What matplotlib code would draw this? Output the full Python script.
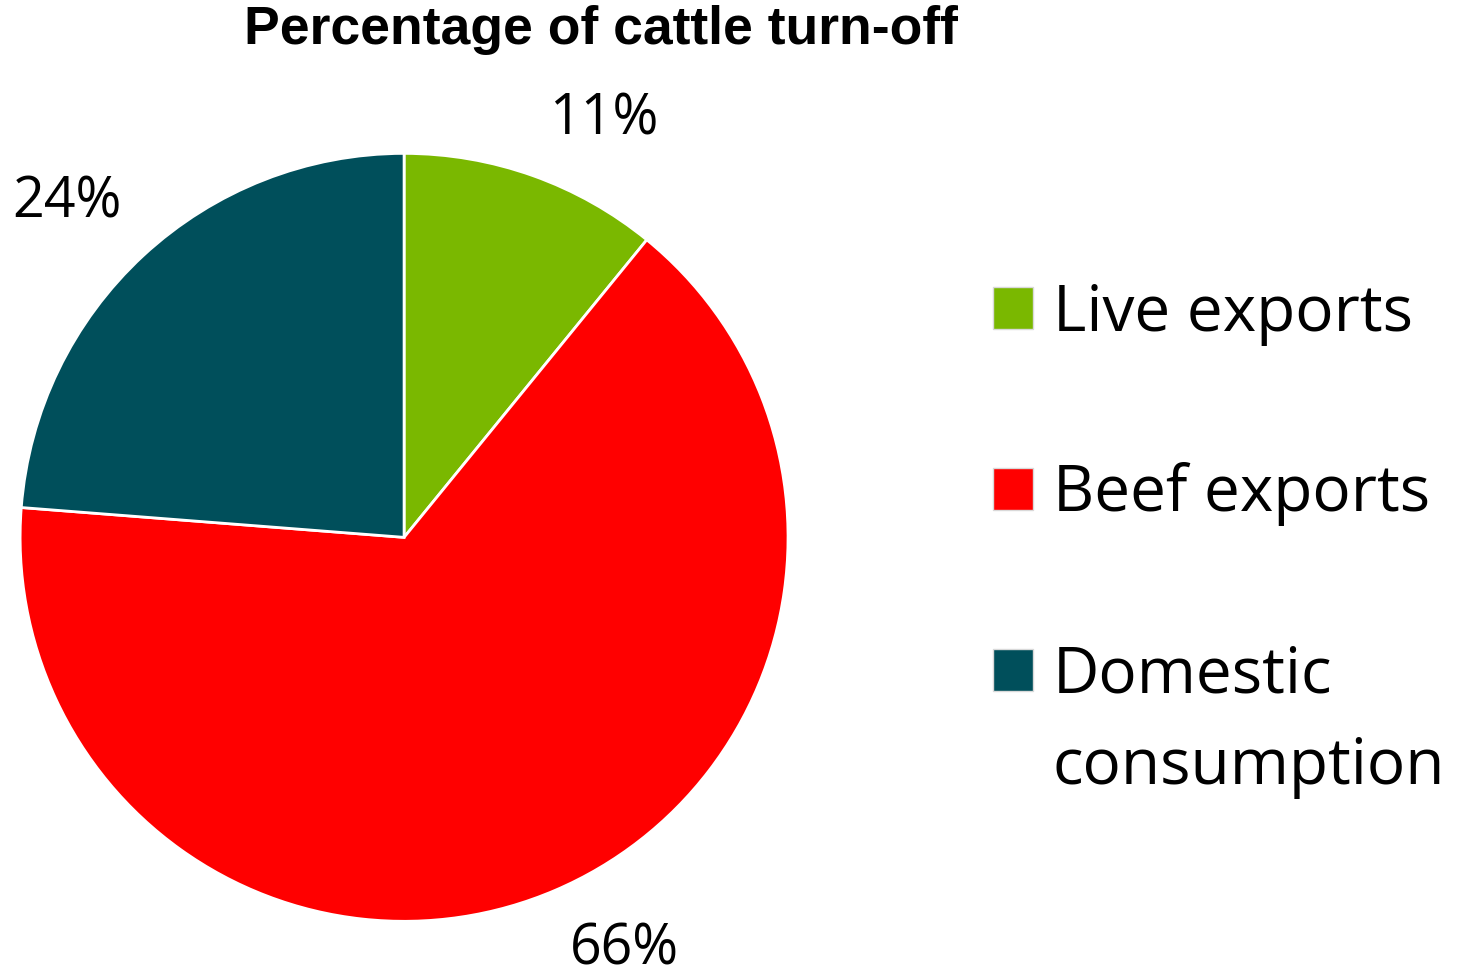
import matplotlib.pyplot as plt

# données
categories = ["Live exports", "Beef exports", "Domestic"]
suite_legende = "consumption"
valeurs = [11, 66, 24]
etiquettes = ["11%", "66%", "24%"]
couleurs = ["#7AB800", "#FF0000", "#004F5B"]
# position des étiquettes (en rayons), comme placées par Excel
pos_etiquettes = [(0.521, 1.086), (0.573, -1.075), (-0.878, 0.872)]

plt.rcParams['font.family'] = ['Open Sans', 'DejaVu Sans']

fig = plt.figure(figsize=(14.63, 9.77), dpi=100)
ax = fig.add_axes([0.0137, 0.057, 0.525, 0.786])

wedges, _ = ax.pie(valeurs, colors=couleurs, startangle=90, counterclock=False,
                   wedgeprops=dict(edgecolor="white", linewidth=2))
ax.set_xlim(-1, 1)
ax.set_ylim(-1, 1)
ax.set_aspect("equal")

for txt, (x, y) in zip(etiquettes, pos_etiquettes):
    ax.text(x, y, txt, ha="center", va="center", fontsize=40, clip_on=False)

fig.text(0.411, 0.969, "Percentage of cattle turn-off", ha="center", va="center",
         fontsize=38.5, fontweight="bold", family=["Liberation Sans", "DejaVu Sans"])

leg = fig.legend(wedges, categories, loc="upper left", bbox_to_anchor=(0.661, 0.738),
                 frameon=False, fontsize=46, handlelength=0.64, handleheight=0.64,
                 handletextpad=0.3, labelspacing=1.83, borderaxespad=0)
for h in leg.legend_handles:
    h.set_edgecolor("#d9d9d9")
    h.set_linewidth(1)

# deuxième ligne de la dernière entrée, alignée sur le texte de la légende
fig.canvas.draw()
bb = leg.get_texts()[2].get_window_extent().transformed(fig.transFigure.inverted())
fig.text(bb.x0, bb.y0 - 92 / 977, suite_legende, ha="left", va="bottom", fontsize=46)

fig.savefig("out.png", dpi=100)
